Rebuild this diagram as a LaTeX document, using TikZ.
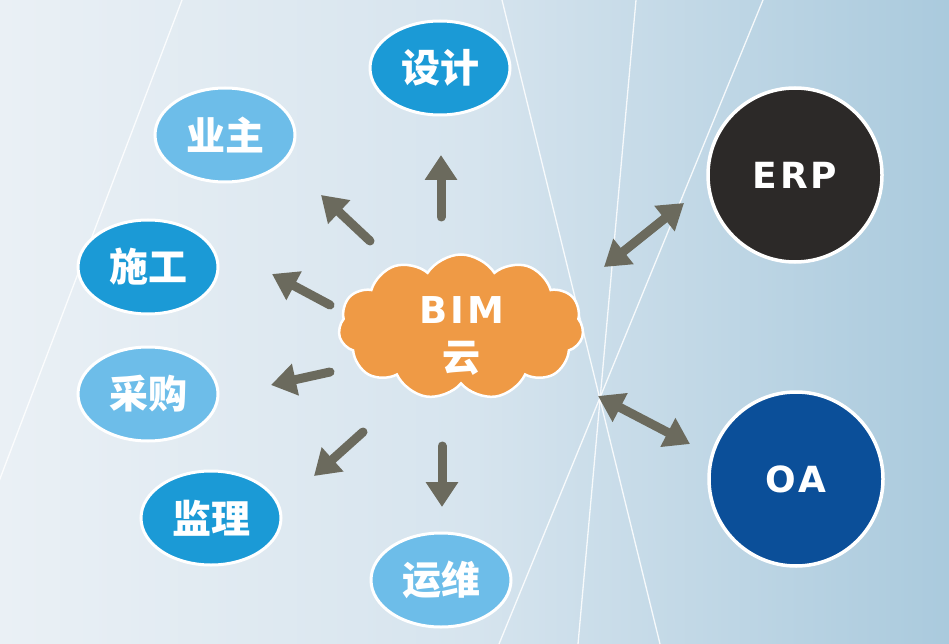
\documentclass[tikz,border=0pt]{standalone}
\usepackage{fontspec}
\usetikzlibrary{shapes.geometric,shapes.symbols,arrows.meta}
\newfontfamily\cjk{Noto Sans CJK SC}
\newfontfamily\latinf{DejaVu Sans}[LetterSpace=8]
\definecolor{blueA}{HTML}{1B9AD6}
\definecolor{blueB}{HTML}{6DBDE9}
\definecolor{erpc}{HTML}{2C2928}
\definecolor{oac}{HTML}{0B4F99}
\definecolor{cloudc}{HTML}{EF9A45}
\definecolor{arrowc}{HTML}{6B6A5D}
\definecolor{bgl}{HTML}{EAF0F5}
\definecolor{bgm}{HTML}{D6E4EE}
\definecolor{bgr}{HTML}{AACADD}
\begin{document}
\begin{tikzpicture}[x=1pt,y=-1pt,
  bub/.style={ellipse, draw=white, line width=3pt, minimum width=140pt, minimum height=94pt, inner sep=0pt, text=white, font=\cjk\bfseries\fontsize{39}{42}\selectfont},
  dk/.style={bub, fill=blueA},
  lt/.style={bub, fill=blueB},
  sys/.style={circle, draw=white, line width=3.5pt, minimum size=174pt, inner sep=0pt, text=white, font=\latinf\bfseries\fontsize{36}{40}\selectfont},
  arr/.style={draw=arrowc, line width=9pt, line cap=round, -{Triangle[width=31pt,length=25pt]}},
  darr/.style={draw=arrowc, line width=9pt, {Triangle[width=31pt,length=25pt]}-{Triangle[width=31pt,length=25pt]}},
  bgline/.style={draw=white, line width=1.3pt, opacity=0.85},
  ctext/.style={text=white, inner sep=0pt}
]
% background
\shade[left color=bgl, right color=bgr, middle color=bgm] (0,0) rectangle (949,644);
\useasboundingbox (0,0) rectangle (949,644);
\draw[bgline] (182,0) -- (-10,505);
\draw[bgline] (502,0) -- (660,644);
\draw[bgline] (636,0) -- (578,644);
\draw[bgline] (763,0) -- (499,644);

% nodes
\node[dk] (sheji) at (440,68) {设计};
\node[lt] (yezhu) at (225,135) {业主};
\node[dk] (shigong) at (148,267) {施工};
\node[lt] (caigou) at (148,394) {采购};
\node[dk] (jianli) at (211,518) {监理};
\node[lt] (yunwei) at (441,580) {运维};
\node[sys, fill=erpc] (erp) at (795,175) {ERP};
\node[sys, fill=oac] (oa) at (796,479) {OA};

\node[cloud, cloud puffs=11, cloud puff arc=115, aspect=1.75, fill=cloudc, draw=white, line width=2.5pt, minimum width=245pt, minimum height=145pt, inner sep=0pt] (cloud) at (461,327) {};
\node[ctext, font=\latinf\bfseries\fontsize{37}{40}\selectfont] (bim) at (462,310) {BIM};
\node[ctext, font=\cjk\bfseries\fontsize{38}{40}\selectfont] (yun) at (461,358) {云};

% arrow end points
\coordinate (a1s) at (441,217); \coordinate (a1e) at (441,155);
\coordinate (a2s) at (370,241); \coordinate (a2e) at (321,195);
\coordinate (a3s) at (330,305); \coordinate (a3e) at (272,274);
\coordinate (a4s) at (330,372); \coordinate (a4e) at (271,385);
\coordinate (a5s) at (363,432); \coordinate (a5e) at (314,476);
\coordinate (a6s) at (442,446); \coordinate (a6e) at (442,507);
\coordinate (e1) at (604,267); \coordinate (e2) at (684,203);
\coordinate (o1) at (598,396); \coordinate (o2) at (690,444);

\draw[arr] (a1s) -- (a1e);
\draw[arr] (a2s) -- (a2e);
\draw[arr] (a3s) -- (a3e);
\draw[arr] (a4s) -- (a4e);
\draw[arr] (a5s) -- (a5e);
\draw[arr] (a6s) -- (a6e);
\draw[darr] (e1) -- (e2);
\draw[darr] (o1) -- (o2);
\end{tikzpicture}
\end{document}
